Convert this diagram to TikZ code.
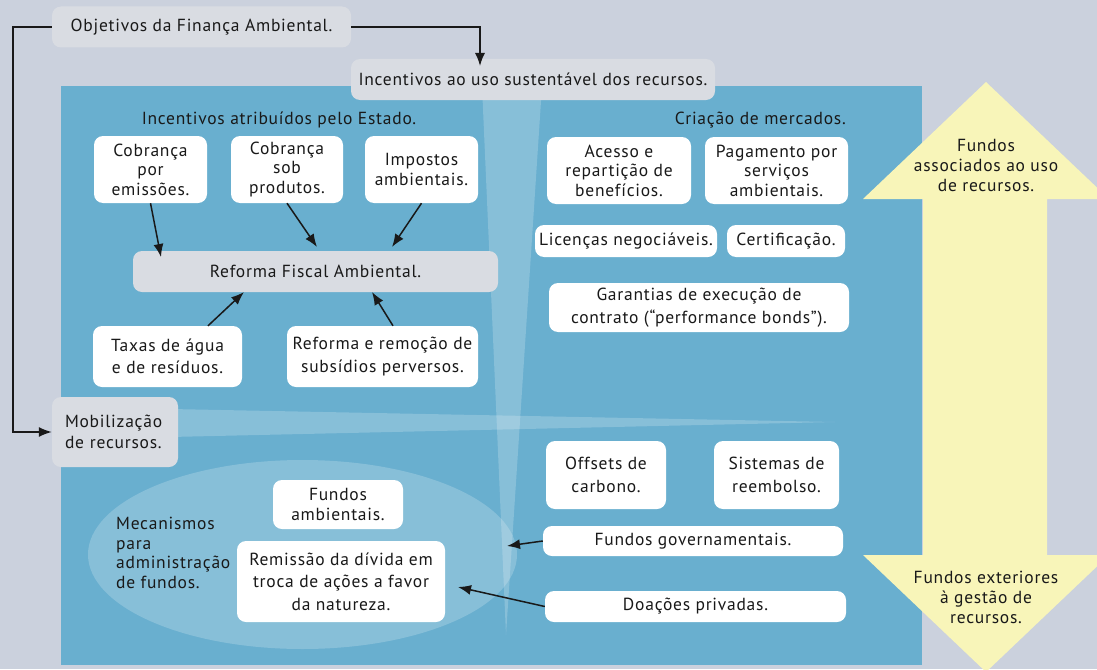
\documentclass[tikz,border=0pt]{standalone}
\usepackage{fontspec}
\setmainfont{PT Sans}[LetterSpace=4.3]
\usetikzlibrary{arrows.meta,calc}
\definecolor{bg}{HTML}{CBD1DD}
\definecolor{blu}{HTML}{69AFCF}
\definecolor{gry}{HTML}{D9DCE2}
\definecolor{ylw}{HTML}{F8F5B9}
\begin{document}
\begin{tikzpicture}[x=1pt,y=-1pt,
  every node/.style={font=\fontsize{17.5}{19.5}\selectfont, text=black!90},
  wbox/.style={fill=white, rounded corners=9pt, align=center, inner sep=0pt},
  gbox/.style={fill=gry, rounded corners=9pt, align=center, inner sep=0pt},
  arr/.style={-{Latex[length=13pt,width=10pt]}, line width=1.5pt, draw=black!90},
  streak/.style={fill=white, fill opacity=0.2},
  lbl/.style={inner sep=0pt, align=center},
]
\useasboundingbox (0,0) rectangle (1097,669);
\clip (0,0) rectangle (1097,669);
\fill[bg] (0,0) rectangle (1097,669);
\fill[blu] (61,86) rectangle (922,665);
\fill[streak] (482,86) -- (542,86) -- (506,635) -- cycle;
\fill[streak] (170,409) -- (835,422) -- (170,437) -- cycle;
\fill[streak] (302.5,554.5) ellipse [x radius=214.5, y radius=94.5];
% yellow double arrow
\fill[ylw] (986,82) -- (1109,199) -- (1047,199) -- (1047,555) -- (1109,555) -- (986,672) -- (863,555) -- (923,555) -- (923,199) -- (863,199) -- cycle;
\node[lbl, font=\fontsize{17.5}{20}\selectfont] (fau) at (986,165) {Fundos\\associados ao uso\\de recursos.};
\node[lbl, font=\fontsize{17.5}{20}\selectfont] (feg) at (986,597) {Fundos exteriores\\à gestão de\\recursos.};

% top boxes
\node[gbox, minimum width=299pt, minimum height=41pt] (obj) at (201.5,27) {Objetivos da Finança Ambiental.};
\node[gbox, minimum width=364pt, minimum height=41pt] (inc) at (533,79.5) {Incentivos ao uso sustentável dos recursos.};
\node[gbox, minimum width=126pt, minimum height=70pt, text width=100pt, align=left] (mob) at (115,432) {Mobilização\\[1.5pt]de recursos.};

\coordinate (incin) at (480,66);
\draw[arr] (obj.east) -| (incin);
\draw[arr] (obj.west) -- ++(-39,0) |- (mob.west);

% section labels
\node[lbl] (iae) at (279,120) {Incentivos atribuídos pelo Estado.};
\node[lbl, anchor=east] (cdm) at (846,120) {Criação de mercados.};

% state incentives
\node[wbox, minimum width=113pt, minimum height=67pt] (cpe) at (150.5,169.5) {Cobrança\\por\\emissões.};
\node[wbox, minimum width=112pt, minimum height=67pt] (cso) at (287,169.5) {Cobrança\\sob\\produtos.};
\node[wbox, minimum width=113pt, minimum height=67pt] (imp) at (421.5,169.5) {Impostos\\ambientais.};
\node[gbox, minimum width=365pt, minimum height=41pt] (rfa) at (315.5,271.5) {Reforma Fiscal Ambiental.};
\node[wbox, minimum width=149pt, minimum height=61pt] (tax) at (167.5,356.5) {Taxas de água\\[3pt]e de resíduos.};
\node[wbox, minimum width=191pt, minimum height=61pt] (rrs) at (382.5,356.5) {Reforma e remoção de\\[3pt]subsídios perversos.};

\coordinate (t1) at (161,257);
\coordinate (t2) at (317,247);
\coordinate (t3) at (392,247);
\coordinate (t4) at (244,292);
\coordinate (t5) at (372,292);
\draw[arr] (cpe.south) -- (t1);
\draw[arr] (cso.south) -- (t2);
\draw[arr] (imp.south) -- (t3);
\draw[arr] ($(tax.north)+(40.5,0)$) -- (t4);
\draw[arr] ($(rrs.north)+(10.5,0)$) -- (t5);

% markets
\node[wbox, minimum width=144pt, minimum height=67pt] (acs) at (619,170.5) {Acesso e\\repartição de\\benefícios.};
\node[wbox, minimum width=143pt, minimum height=67pt] (pag) at (776.5,170.5) {Pagamento por\\serviços\\ambientais.};
\node[wbox, minimum width=182pt, minimum height=32pt] (lic) at (626,241) {Licenças negociáveis.};
\node[wbox, minimum width=118pt, minimum height=32pt] (cer) at (786,241) {Certificação.};
\node[wbox, minimum width=300pt, minimum height=49pt] (gar) at (699,307.5) {Garantias de execução de\\[3pt]contrato (“performance bonds”).};

% lower right
\node[wbox, minimum width=120pt, minimum height=68pt] (off) at (606,475) {Offsets de\\[3pt]carbono.};
\node[wbox, minimum width=125pt, minimum height=68pt] (sis) at (776.5,475) {Sistemas de\\[3pt]reembolso.};
\node[wbox, minimum width=300pt, minimum height=30pt] (fgov) at (693,541) {Fundos governamentais.};
\node[wbox, minimum width=301pt, minimum height=31pt] (don) at (695.5,606.5) {Doações privadas.};

% fund mechanisms
\node[lbl, anchor=west, align=left] (mec) at (116,553) {Mecanismos\\para\\administração\\de fundos.};
\node[wbox, minimum width=130pt, minimum height=49pt] (fam) at (338,504.5) {Fundos\\ambientais.};
\node[wbox, minimum width=208pt, minimum height=81pt] (rem) at (341,581.5) {Remissão da dívida em\\[3pt]troca de ações a favor\\[3pt]da natureza.};

\coordinate (t6) at (507,546);
\coordinate (t7) at (458,587);
\draw[arr] (fgov.west) -- (t6);
\draw[arr] (don.west) -- (t7);
\end{tikzpicture}
\end{document}
